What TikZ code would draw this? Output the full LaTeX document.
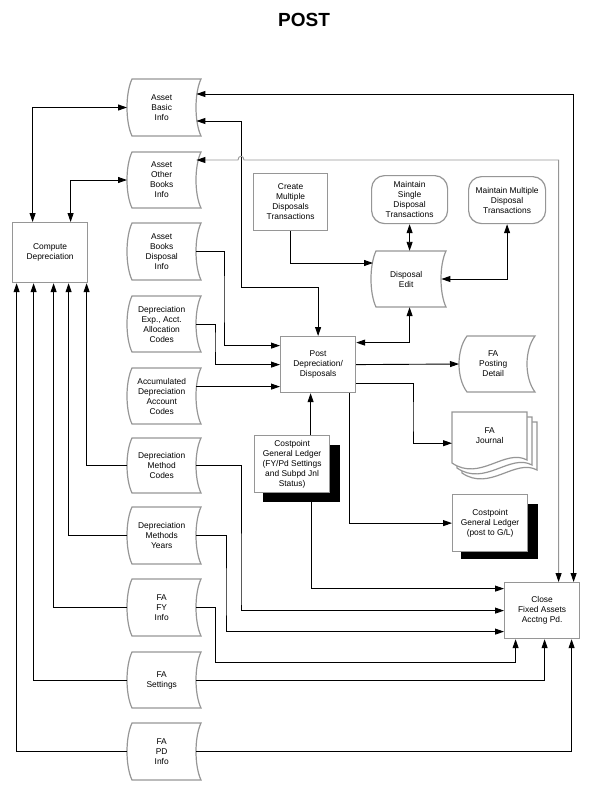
\documentclass[tikz,border=0pt]{standalone}
\usepackage{fontspec}
\setmainfont{Liberation Sans}
\usetikzlibrary{arrows.meta,calc}
\definecolor{bordergray}{RGB}{150,150,150}
\tikzset{
  shapeline/.style={draw=bordergray, line width=1.2pt},
  nodetext/.style={align=center, font=\fontsize{8.4}{10}\selectfont, inner sep=1pt},
  proc/.style={nodetext, draw=bordergray, line width=1.2pt, fill=white},
  rproc/.style={proc, rounded corners=13pt},
  conn/.style={line width=0.9pt},
  arr/.style={conn, -{Triangle[length=9pt,width=6pt,color=black]}},
  dbl/.style={conn, {Triangle[length=9pt,width=6pt,color=black]}-{Triangle[length=9pt,width=6pt,color=black]}}
}
% stored data shape: name, x0 (bulge), y0, x1 (right corners), y1, depth, text
\newcommand\sdata[7]{%
  \node[nodetext, anchor=west, minimum width={#4-#2-#6}, minimum height={#5-#3}] (#1) at (#2,{(#3+#5)/2}) {#7};
  \draw[shapeline] ({#2+#6},#3) -- (#4,#3)
    .. controls ({#4-4*#6/3},{#3+(#5-#3)/4}) and ({#4-4*#6/3},{#5-(#5-#3)/4}) .. (#4,#5)
    -- ({#2+#6},#5)
    .. controls ({#2-#6/3},{#5-(#5-#3)/4}) and ({#2-#6/3},{#3+(#5-#3)/4}) .. cycle;
}
% process box: name, x0, y0, x1, y1, text
\newcommand\procnode[6]{%
  \node[proc, anchor=north west, minimum width={#4-#2}, minimum height={#5-#3}] (#1) at (#2,#3) {#6};
}
% document page of the multi-document: dx, dy
\newcommand\docpage[2]{%
  \draw[shapeline, fill=white] ({452+#1},{412+#2}) -- ({527+#1},{412+#2}) -- ({527+#1},{460+#2})
    .. controls ({505+#1},{448+#2}) and ({480+#1},{482+#2}) .. ({452+#1},{463+#2}) -- cycle;
}
\begin{document}
\begin{tikzpicture}[x=1pt,y=-1pt]
\useasboundingbox (0,0) rectangle (599,804);

\node[font=\fontsize{19}{22}\selectfont\bfseries] (title) at (304,20) {POST};

% left column
\procnode{compute}{12}{222}{87}{282}{Compute\\Depreciation}
\sdata{abi}{127}{79}{201}{136}{5}{Asset\\Basic\\Info}
\sdata{aobi}{127}{152}{201}{208}{5}{Asset\\Other\\Books\\Info}
\sdata{abdi}{127}{223}{201}{280}{5}{Asset\\Books\\Disposal\\Info}
\sdata{deaac}{127}{296}{201}{352}{5}{Depreciation\\Exp., Acct.\\Allocation\\Codes}
\sdata{adac}{127}{368}{201}{424}{5}{Accumulated\\Depreciation\\Account\\Codes}
\sdata{dmc}{127}{438}{201}{493}{5}{Depreciation\\Method\\Codes}
\sdata{dmy}{127}{507}{201}{564}{5}{Depreciation\\Methods\\Years}
\sdata{fafy}{127}{579}{201}{636}{5}{FA\\FY\\Info}
\sdata{fas}{127}{652}{201}{708}{5}{FA\\Settings}
\sdata{fapd}{127}{723}{201}{780}{5}{FA\\PD\\Info}

% middle / right
\procnode{create}{253}{173}{327}{230}{Create\\Multiple\\Disposals\\Transactions}
\node[rproc, anchor=north west, minimum width=76, minimum height=48] (msd) at (371,175) {Maintain\\Single\\Disposal\\Transactions};
\node[rproc, anchor=north west, minimum width=77, minimum height=47] (mmd) at (468,176) {Maintain Multiple\\Disposal\\Transactions};
\sdata{de}{371}{251}{446}{307}{5}{Disposal\\Edit}
\procnode{post}{280}{336}{355}{392}{Post\\Depreciation/\\Disposals}
\sdata{fapost}{459}{336}{535}{392}{8}{FA\\Posting\\Detail}

\docpage{10}{10}
\docpage{5}{5}
\docpage{0}{0}
\node[nodetext, anchor=north west, minimum width=75, minimum height=62, inner sep=0pt] (faj) at (452,412) {};
\node[nodetext] (fajtext) at ($(faj.center)+(0,-8)$) {FA\\Journal};

\fill[black] (461,504) rectangle (538,559);
\procnode{cgl}{452}{494}{527}{551}{Costpoint\\General Ledger\\(post to G/L)}
\fill[black] (263,445) rectangle (340,502);
\procnode{cglfy}{254}{435}{329}{492}{Costpoint\\General Ledger\\(FY/Pd Settings\\and Subpd Jnl\\Status)}
\procnode{close}{504}{582}{579}{638}{Close\\Fixed Assets\\Acctng Pd.}

% connectors to Compute Depreciation
\draw[dbl] (abi.west) -| ([xshift=-17.5pt]compute.north);
\draw[dbl] (aobi.west) -| ([xshift=20.5pt]compute.north);
\draw[arr] (dmc.west) -| ([xshift=36.5pt]compute.south);
\draw[arr] (dmy.west) -| ([xshift=18.5pt]compute.south);
\draw[arr] (fafy.west) -| ([xshift=3.5pt]compute.south);
\draw[arr] (fas.west) -| ([xshift=-16.5pt]compute.south);
\draw[arr] (fapd.west) -| ([xshift=-33.5pt]compute.south);

% Asset Basic / Other Books
\draw[dbl] ($(abi.east)+(0,-13.5)$) -| ([xshift=31.5pt]close.north);
\draw[dbl] ($(abi.east)+(0,13.5)$) -| (241,287) -| (post.north);
\draw[dbl, draw=bordergray] ($(aobi.east)+(0,-20)$) -- (238,160)
   .. controls (238,155) and (244,155) .. (244,160) -| ([xshift=16.5pt]close.north);

% inputs to Post
\coordinate (pin1) at ($(post.west)+(0,-19)$);
\coordinate (pin3) at ($(post.west)+(0,22)$);
\draw[arr] (abdi.east) -| (224,300) |- (pin1);
\draw[arr] (deaac.east) -| (215,340) |- (post.west);
\draw[arr] (adac.east |- pin3) -- (pin3);
\coordinate (c1) at ([xshift=18.5pt]cglfy.north);
\draw[arr] (c1) -- (c1 |- post.south);

% disposal
\draw[arr] (create.south) |- ($(de.west)+(2,-16)$);
\draw[dbl] (msd.south) -- (msd.south |- de.north);
\draw[dbl] (mmd.south) |- (de.east);
\coordinate (pe) at ($(post.east)+(0,-22)$);
\draw[dbl] (pe) -| (msd.south |- de.south);

% outputs of Post
\draw[arr] (post.east) -- (fapost.west);
\draw[arr] ($(post.east)+(0,19)$) -| (413,420) |- (faj.west);
\coordinate (c2) at ([xshift=31.5pt]post.south);
\draw[arr] (c2) |- (cgl.west);

% inputs to Close
\draw[arr] ([xshift=19.5pt]cglfy.south) |- ($(close.west)+(0,-22)$);
\draw[arr] (dmc.east) -| (241,600) |- (close.west);
\draw[arr] (dmy.east) -| (226,600) |- ($(close.west)+(0,21)$);
\draw[arr] (fafy.east) -| (215,662) -| ([xshift=-26.5pt]close.south);
\draw[arr] (fas.east) -| ([xshift=2.5pt]close.south);
\draw[arr] (fapd.east) -| ([xshift=29.5pt]close.south);
\end{tikzpicture}
\end{document}
